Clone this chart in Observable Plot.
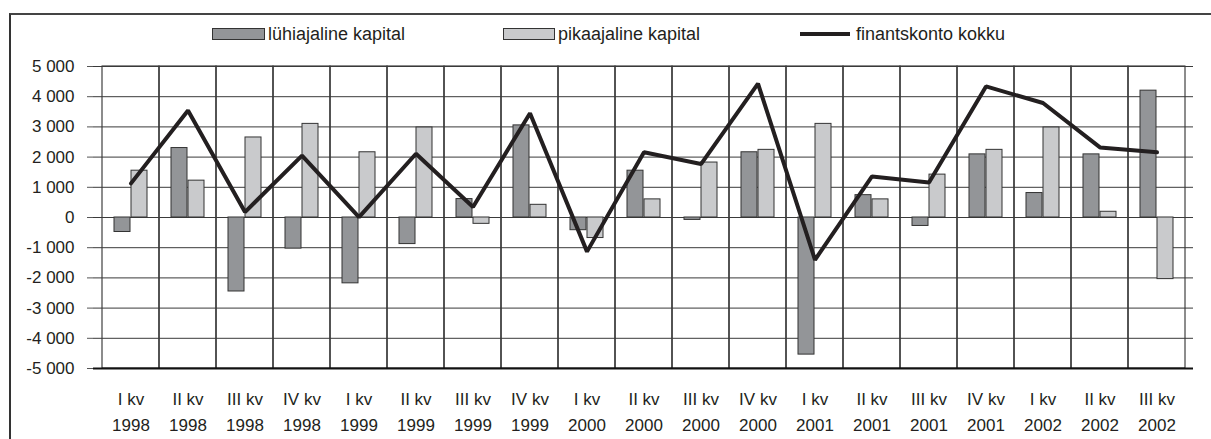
<!DOCTYPE html>
<html>
<head>
<meta charset="utf-8">
<script src="https://cdn.jsdelivr.net/npm/d3@7"></script>
<script src="https://cdn.jsdelivr.net/npm/@observablehq/plot@0.6"></script>
<style>
  html, body { margin: 0; padding: 0; background: #fff; width: 1211px; height: 439px; overflow: hidden; }
  body { position: relative; font-family: "Liberation Sans", Arial, sans-serif; color: #231f20; }
  #frame { position: absolute; left: 9px; top: 13px; width: 1400px; height: 600px; border-top: 2px solid #444; border-left: 2px solid #333; box-sizing: border-box; }
  #chart { position: absolute; left: 0; top: 0; }
  .leg { position: absolute; top: 24px; font-size: 18px; line-height: 20px; white-space: nowrap; }
  .sw { position: absolute; top: 28px; height: 12px; box-sizing: border-box; border: 1px solid #333; }
  .ln { position: absolute; top: 32px; height: 4px; background: #231f20; }
</style>
</head>
<body>
<div id="frame"></div>
<div id="chart"></div>
<div id="legend"></div>
<script>
// ---- data ----
const quarterNames = ["I kv","II kv","III kv","IV kv","I kv","II kv","III kv","IV kv","I kv","II kv","III kv","IV kv","I kv","II kv","III kv","IV kv","I kv","II kv","III kv"];
const years = ["1998","1998","1998","1998","1999","1999","1999","1999","2000","2000","2000","2000","2001","2001","2001","2001","2002","2002","2002"];
const shortTerm = [-480, 2300, -2450, -1030, -2180, -880, 610, 3050, -420, 1550, -80, 2160, -4540, 740, -280, 2090, 810, 2090, 4200];
const longTerm = [1550, 1220, 2650, 3100, 2160, 2980, -210, 420, -680, 600, 1820, 2240, 3100, 600, 1420, 2240, 2980, 190, -2040];
const totalAccount = [1130, 3540, 180, 2050, 10, 2110, 350, 3450, -1130, 2160, 1770, 4430, -1400, 1360, 1160, 4340, 3790, 2320, 2160];
const yTicks = [-5000, -4000, -3000, -2000, -1000, 0, 1000, 2000, 3000, 4000, 5000];
const seriesNames = ["lühiajaline kapital", "pikaajaline kapital", "finantskonto kokku"];

const darkFill = "#939598";
const lightFill = "#c9cacc";
const ink = "#231f20";

const labels = quarterNames.map((q, i) => q + "\n" + years[i]);
const rows = labels.map((q, i) => ({q, s: shortTerm[i], l: longTerm[i], t: totalAccount[i]}));
const fmt = d => (d < 0 ? "-" : "") + d3.format(",")(Math.abs(d)).replace(/,/g, " ");

const chart = Plot.plot({
  width: 1211,
  height: 439,
  marginTop: 66,
  marginBottom: 71,
  marginLeft: 93,
  marginRight: 18,
  x: {type: "band", domain: labels, padding: 0, label: null},
  y: {domain: [yTicks[0], yTicks[yTicks.length - 1]], label: null},
  style: {fontFamily: "'Liberation Sans', Arial, sans-serif", fontSize: "17px", color: ink, background: "transparent", overflow: "visible"},
  marks: [
    Plot.cell(labels, {x: d => d, fill: "none", stroke: "#1a1a1a", strokeWidth: 1, inset: 0}),
    Plot.gridY(yTicks, {stroke: "#3a3a3a", strokeOpacity: 1, strokeWidth: 1}),
    Plot.barY(rows, {x: "q", y: "s", fill: darkFill, stroke: "#333", strokeWidth: 1, insetLeft: 12, insetRight: 29}),
    Plot.barY(rows, {x: "q", y: "l", fill: lightFill, stroke: "#333", strokeWidth: 1, insetLeft: 29, insetRight: 12}),
    Plot.line(rows, {x: "q", y: "t", stroke: ink, strokeWidth: 4, strokeLinejoin: "miter"}),
    Plot.ruleY([yTicks[0]], {stroke: "#111", strokeWidth: 2}),
    Plot.axisY(yTicks, {tickSize: 6, tickPadding: 13, tickFormat: fmt, fontSize: 17, stroke: "#555"}),
    Plot.axisX({tickSize: 0, tickPadding: 18, lineHeight: 1.53, fontSize: 17, tickFormat: d => d})
  ]
});
document.getElementById("chart").appendChild(chart);

// ---- legend ----
const legend = document.getElementById("legend");
const legendItems = [
  {name: seriesNames[0], kind: "sw", fill: darkFill, sx: 212, sw: 53, tx: 268},
  {name: seriesNames[1], kind: "sw", fill: lightFill, sx: 503, sw: 52, tx: 558},
  {name: seriesNames[2], kind: "ln", fill: ink, sx: 800, sw: 50, tx: 856}
];
for (const it of legendItems) {
  const s = document.createElement("div");
  s.className = it.kind;
  s.style.left = it.sx + "px";
  s.style.width = it.sw + "px";
  s.style.background = it.fill;
  legend.appendChild(s);
  const t = document.createElement("div");
  t.className = "leg";
  t.style.left = it.tx + "px";
  t.textContent = it.name;
  legend.appendChild(t);
}
</script>
</body>
</html>
